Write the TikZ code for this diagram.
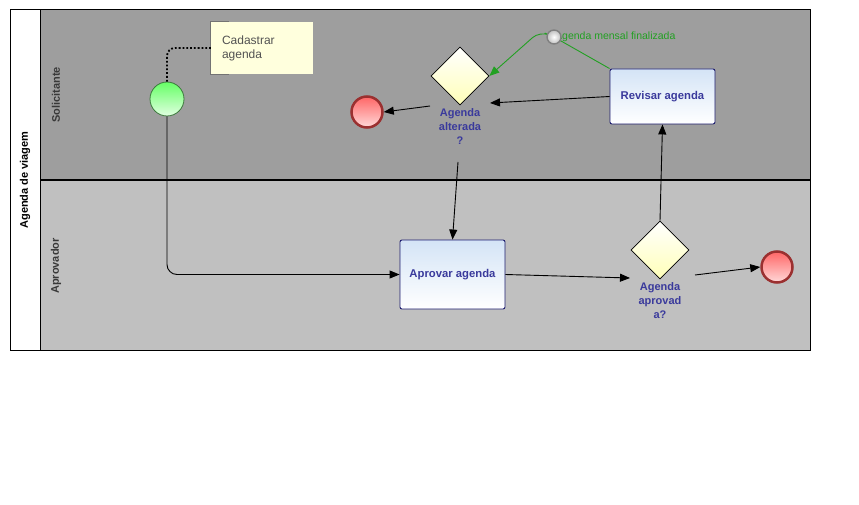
\documentclass[tikz,border=0pt]{standalone}
\usepackage{fontspec}
\setmainfont{Liberation Sans}
\usetikzlibrary{shapes.geometric,arrows.meta}
\definecolor{laneA}{HTML}{9E9E9E}
\definecolor{laneB}{HTML}{C0C0C0}
\definecolor{taskline}{HTML}{1C1C6E}
\definecolor{tasktop}{HTML}{D4E4F6}
\definecolor{labelblue}{HTML}{3A3A9C}
\definecolor{notefill}{HTML}{FFFFDD}
\definecolor{flowgreen}{HTML}{22A022}
\definecolor{endline}{HTML}{9B3030}
\definecolor{startline}{HTML}{3D7A3D}
\begin{document}
\begin{tikzpicture}[x=1pt,y=-1pt,
  task/.style={draw=taskline,line width=0.9pt,rounded corners=2pt,top color=tasktop,bottom color=white,
    minimum width=105pt,font=\bfseries\fontsize{11.3}{13}\selectfont,text=labelblue},
  gate/.style={diamond,draw,line width=0.6pt,aspect=1,minimum width=58pt,minimum height=58pt,
    inner sep=0pt,top color=white,bottom color=yellow!28},
  glabel/.style={align=center,font=\bfseries\fontsize{11}{14}\selectfont,text=labelblue,inner sep=0pt},
  endev/.style={circle,draw=endline,line width=2.5pt,minimum size=31pt,top color=red!60,bottom color=red!15},
  flow/.style={-{Triangle[length=10pt,width=8pt]},line width=0.9pt},
  lanetext/.style={rotate=90,font=\bfseries\fontsize{11}{13}\selectfont,text=black!78}]
\path[use as bounding box,fill=white] (0,0) rectangle (859,505);
% lanes
\fill[laneA] (40,10) rectangle (810,180);
\fill[laneB] (40,180) rectangle (810,350);
\draw[line width=1pt] (10,10) rectangle (810,350) (40,10) -- (40,350);
\draw[line width=1.6pt] (40,180) -- (810,180);
\node[lanetext,text=black] (pool) at (25,180) {Agenda de viagem};
\node[lanetext] (sol) at (56,95) {Solicitante};
\node[lanetext] (apv) at (56,266) {Aprovador};
% nodes
\node[circle,draw=startline,line width=0.8pt,minimum size=34pt,top color=green!60!white,bottom color=green!12] (st) at (167,99) {};
\node[fill=notefill,minimum width=102pt,minimum height=52pt,text width=80pt,align=left,
  font=\fontsize{12}{14}\selectfont,text=black!68] (ann) at (262,48) {Cadastrar\\agenda};
\draw[black!55,line width=0.8pt] ([xshift=18pt]ann.north west) -- (ann.north west) -- (ann.south west) -- ([xshift=18pt]ann.south west);
\node[endev] (e1) at (367,112) {};
\node[gate] (g1) at (460,76) {};
\node[glabel] (l1) at (460,127) {Agenda\\alterada\\?};
\node[task,minimum height=55pt] (rev) at (662.5,96.5) {Revisar agenda};
\node[task,minimum height=69pt] (apr) at (452.5,274.5) {Aprovar agenda};
\node[gate] (g2) at (660,250) {};
\node[glabel] (l2) at (660,301) {Agenda\\aprovad\\a?};
\node[endev] (e2) at (777,267) {};
\coordinate (g1in) at (490,103);
\coordinate (g1out) at (430,106);
\coordinate (g1down) at (458,162);
\coordinate (g2in) at (630,278);
\coordinate (g2out) at (695,275);
\coordinate (tmc) at (554,37);
% connectors
\draw[dotted,line width=1.8pt,rounded corners=8pt] (st.north) |- (ann.west);
\draw[flow,rounded corners=10pt] (st.south) |- (apr.west);
\draw[flow] (apr.east) -- (g2in);
\draw[flow] (g2out) -- (e2.west);
\draw[flow] (g2.north) -- (rev.south);
\draw[flow] (rev.west) -- (g1in);
\draw[flow] (g1out) -- (e1.east);
\draw[flow] (g1down) -- (apr.north);
\draw[flowgreen,line width=0.9pt,-{Triangle[length=10pt,width=8pt]},rounded corners=10pt]
  (rev.north west) -- (tmc) -- (540,31) -- (g1.east);
\node[anchor=west,text=flowgreen,font=\fontsize{10.5}{12}\selectfont,inner sep=0pt] (tml) at (555,37) {Agenda mensal finalizada};
\node[circle,draw=black!50,line width=1.4pt,inner color=white,outer color=black!25,minimum size=14pt,inner sep=0pt] (tm) at (tmc) {};
\end{tikzpicture}
\end{document}
